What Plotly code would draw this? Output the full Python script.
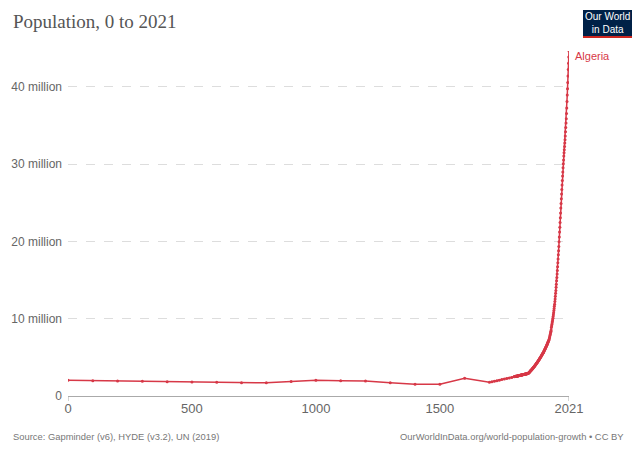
import plotly.graph_objects as go

# ---------------- data ----------------
early_years = [0, 100, 200, 300, 400, 500, 600, 700, 800, 900, 1000, 1100, 1200,
               1300, 1400, 1500, 1600, 1700, 1710, 1720, 1730, 1740, 1750, 1760,
               1770, 1780, 1790]
early_pop_m = [2.03, 1.98, 1.94, 1.90, 1.85, 1.81, 1.77, 1.72, 1.70, 1.88, 2.03,
               1.98, 1.94, 1.72, 1.51, 1.52, 2.28, 1.77, 1.84, 1.91, 1.98, 2.05,
               2.12, 2.19, 2.26, 2.33, 2.40]

# yearly values 1800-2021 (millions)
yearly_start = 1800
yearly_pop_m = [
    2.50, 2.51, 2.51, 2.52, 2.53, 2.54, 2.54, 2.55, 2.56, 2.57,   # 1800s
    2.57, 2.58, 2.59, 2.60, 2.60, 2.61, 2.62, 2.63, 2.63, 2.64,   # 1810s
    2.65, 2.66, 2.66, 2.67, 2.68, 2.69, 2.69, 2.70, 2.71, 2.72,   # 1820s
    2.72, 2.73, 2.74, 2.75, 2.76, 2.76, 2.77, 2.78, 2.79, 2.79,   # 1830s
    2.80, 2.81, 2.82, 2.82, 2.83, 2.84, 2.85, 2.86, 2.86, 2.87,   # 1840s
    2.88, 2.89, 2.89, 2.90, 2.91, 2.92, 2.93, 2.95, 2.98, 3.01,   # 1850s
    3.04, 3.08, 3.11, 3.15, 3.18, 3.22, 3.25, 3.29, 3.32, 3.36,   # 1860s
    3.40, 3.43, 3.47, 3.51, 3.55, 3.59, 3.63, 3.67, 3.71, 3.75,   # 1870s
    3.79, 3.83, 3.87, 3.91, 3.96, 4.00, 4.04, 4.09, 4.13, 4.18,   # 1880s
    4.22, 4.27, 4.31, 4.36, 4.41, 4.45, 4.50, 4.55, 4.60, 4.65,   # 1890s
    4.70, 4.75, 4.80, 4.85, 4.90, 4.95, 5.00, 5.06, 5.11, 5.17,   # 1900s
    5.22, 5.28, 5.33, 5.39, 5.45, 5.50, 5.56, 5.60, 5.62, 5.68,   # 1910s
    5.80, 5.87, 5.93, 6.00, 6.06, 6.13, 6.20, 6.27, 6.34, 6.41,   # 1920s
    6.48, 6.55, 6.63, 6.70, 6.78, 6.85, 6.93, 7.01, 7.09, 7.17,   # 1930s
    7.25, 7.38, 7.51, 7.64, 7.78, 7.92, 8.06, 8.21, 8.36, 8.52,   # 1940s
    8.87, 9.06, 9.25, 9.44, 9.64, 9.84, 10.06, 10.28, 10.52, 10.78,       # 1950s
    11.06, 11.33, 11.60, 11.88, 12.21, 12.55, 12.91, 13.28, 13.66, 14.05,  # 1960s
    14.46, 14.89, 15.33, 15.78, 16.24, 16.71, 17.22, 17.73, 18.26, 18.80,  # 1970s
    19.34, 19.96, 20.58, 21.20, 21.82, 22.43, 23.06, 23.68, 24.30, 24.91,  # 1980s
    25.52, 26.13, 26.72, 27.30, 27.87, 28.44, 28.97, 29.51, 30.03, 30.53,  # 1990s
    31.04, 31.45, 31.86, 32.28, 32.71, 33.15, 33.64, 34.17, 34.73, 35.30,  # 2000s
    35.86, 36.54, 37.26, 38.10, 38.92, 39.73, 40.55, 41.39, 42.23, 43.05,  # 2010s
    43.85, 44.62,                                                          # 2020-2021
]

x_tick_vals = [0, 500, 1000, 1500, 2021]
x_tick_text = ["0", "500", "1000", "1500", "2021"]
y_tick_vals = [0, 10e6, 20e6, 30e6, 40e6]
y_tick_text = ["0", "10 million", "20 million", "30 million", "40 million"]

country = "Algeria"
title_text = "Population, 0 to 2021"
source_text = "Source: Gapminder (v6), HYDE (v3.2), UN (2019)"
url_text = "OurWorldInData.org/world-population-growth • CC BY"

years = early_years + [yearly_start + i for i in range(len(yearly_pop_m))]
pops = [v * 1e6 for v in early_pop_m + yearly_pop_m]

# ---------------- layout helpers ----------------
OFF = 8                 # page body margin offset
W, H = 640 - OFF, 452 - OFF
L, R = 68, 569          # plot area left / right in window px
T, B = 51, 396          # plot area top / bottom in window px


def px(x):
    return (x - L) / (R - L)


def py(y):
    return (B - y) / (B - T)


RED = "#d73847"
FONT = "'Liberation Sans', Arial, sans-serif"

fig = go.Figure()
fig.add_trace(go.Scatter(
    x=years, y=pops, mode="lines+markers",
    line=dict(color=RED, width=1.5),
    marker=dict(color=RED, size=3),
    hoverinfo="skip", showlegend=False,
))

fig.update_layout(
    width=W, height=H,
    margin=dict(l=L - OFF, r=640 - R, t=T - OFF, b=452 - B, pad=0, autoexpand=False),
    paper_bgcolor="white", plot_bgcolor="white",
    font=dict(family=FONT, color="#666"),
    xaxis=dict(
        range=[0, 2021], tickvals=x_tick_vals, ticktext=x_tick_text,
        showgrid=False, zeroline=False, showline=True, linecolor="#aaa",
        linewidth=1, ticks="", tickfont=dict(size=13, color="#666"),
        fixedrange=True, automargin=False,
    ),
    yaxis=dict(
        range=[0, max(pops)], tickvals=y_tick_vals, ticktext=y_tick_text,
        showgrid=True, gridcolor="#dddddd", griddash="dash", gridwidth=1,
        zeroline=False, showline=False, ticks="",
        tickfont=dict(size=12, color="#666"), ticklabelstandoff=5,
        fixedrange=True, automargin=False,
    ),
)

# end caps on x axis
for xv in (0, 2021):
    fig.add_shape(type="line", xref="x", yref="paper", x0=xv, x1=xv,
                  y0=0, y1=-5 / (B - T), line=dict(color="#aaa", width=1))

# title
fig.add_annotation(text=title_text, xref="paper", yref="paper",
                   x=px(11), y=py(21), xanchor="left", yanchor="middle",
                   showarrow=False,
                   font=dict(family="'Liberation Serif', 'DejaVu Serif', serif",
                             size=19, color="#555"))

# country label
fig.add_annotation(text=country, xref="paper", yref="paper",
                   x=px(573), y=py(56), xanchor="left", yanchor="middle",
                   showarrow=False, font=dict(family=FONT, size=11, color=RED))

# footer
fig.add_annotation(text=source_text, xref="paper", yref="paper",
                   x=px(11), y=py(436), xanchor="left", yanchor="middle",
                   showarrow=False, font=dict(family=FONT, size=9.4, color="#777"))
fig.add_annotation(text=url_text, xref="paper", yref="paper",
                   x=px(626), y=py(436), xanchor="right", yanchor="middle",
                   showarrow=False, font=dict(family=FONT, size=9.4, color="#777"))

# logo
fig.add_shape(type="rect", xref="paper", yref="paper",
              x0=px(583), x1=px(632), y0=py(36), y1=py(10),
              fillcolor="#002147", line=dict(width=0), layer="above")
fig.add_shape(type="rect", xref="paper", yref="paper",
              x0=px(583), x1=px(632), y0=py(38), y1=py(36),
              fillcolor="#ce261e", line=dict(width=0), layer="above")
fig.add_annotation(text="Our World<br>in Data", xref="paper", yref="paper",
                   x=px(607.5), y=py(23), xanchor="center", yanchor="middle",
                   showarrow=False,
                   font=dict(family=FONT, size=10, color="white"))

fig.write_html("out.html")
